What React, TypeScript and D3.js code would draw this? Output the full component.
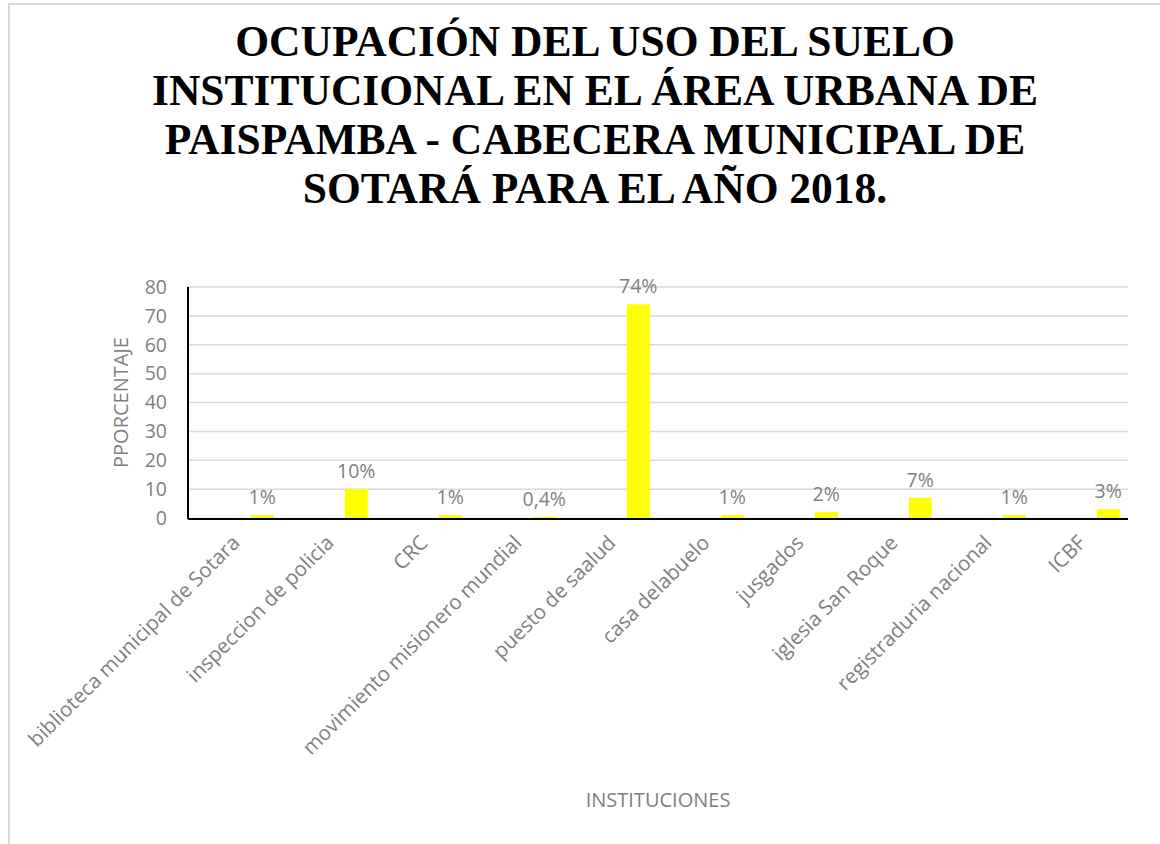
import React, { useEffect, useRef } from "react";
import * as d3 from "d3";

const categories = [
  "biblioteca municipal de Sotara",
  "inspeccion de policia",
  "CRC",
  "movimiento misionero mundial",
  "puesto de saalud",
  "casa delabuelo",
  "jusgados",
  "iglesia San Roque",
  "registraduria nacional",
  "ICBF",
];
const values = [1, 10, 1, 0.4, 74, 1, 2, 7, 1, 3];
const valueLabels = ["1%", "10%", "1%", "0,4%", "74%", "1%", "2%", "7%", "1%", "3%"];
const yTicks = [0, 10, 20, 30, 40, 50, 60, 70, 80];
const titleLines = [
  "OCUPACIÓN DEL USO DEL SUELO",
  "INSTITUCIONAL EN EL ÁREA URBANA DE",
  "PAISPAMBA - CABECERA MUNICIPAL DE",
  "SOTARÁ PARA EL AÑO 2018.",
];

const W = 1160;
const H = 844;
const grey = "#7f7f7f";
const font = "'Open Sans', sans-serif";

const App = () => {
  const svgRef = useRef(null);

  useEffect(() => {
    const svg = d3.select(svgRef.current);
    svg.selectAll("*").remove();

    const left = 188;
    const right = 1128;
    const top = 287;
    const bottom = 518;

    // chart frame
    svg
      .append("rect")
      .attr("x", 9)
      .attr("y", 4)
      .attr("width", W + 20)
      .attr("height", H + 20)
      .attr("fill", "#fff")
      .attr("stroke", "#d9d9d9")
      .attr("stroke-width", 2);

    // title
    svg
      .append("g")
      .selectAll("text")
      .data(titleLines)
      .enter()
      .append("text")
      .attr("x", 595)
      .attr("y", (d, i) => 56 + i * 49)
      .attr("text-anchor", "middle")
      .attr("font-family", "'Liberation Serif', 'Times New Roman', serif")
      .attr("font-weight", "bold")
      .attr("font-size", 43.5)
      .attr("fill", "#000")
      .text((d) => d);

    const x = d3.scaleBand().domain(categories).range([left, right]).padding(0);
    const y = d3.scaleLinear().domain([0, 80]).range([bottom, top]);

    // gridlines
    svg
      .append("g")
      .selectAll("line")
      .data(yTicks.slice(1))
      .enter()
      .append("line")
      .attr("x1", left)
      .attr("x2", right)
      .attr("y1", (d) => y(d))
      .attr("y2", (d) => y(d))
      .attr("stroke", "#d9d9d9")
      .attr("stroke-width", 1.5);

    // y tick labels
    const yAxis = svg
      .append("g")
      .attr("transform", `translate(${left},0)`)
      .call(d3.axisLeft(y).tickValues(yTicks).tickSize(0).tickPadding(21));
    yAxis.select(".domain").remove();
    yAxis
      .selectAll("text")
      .attr("font-family", font)
      .attr("font-size", 19.5)
      .attr("fill", grey);

    const barW = 23;
    const barX = (c: string) => (x(c) as number) + x.bandwidth() * 0.79 - barW / 2;

    svg
      .append("g")
      .selectAll("rect")
      .data(values)
      .enter()
      .append("rect")
      .attr("x", (d, i) => barX(categories[i]))
      .attr("y", (d) => y(d))
      .attr("width", barW)
      .attr("height", (d) => bottom - y(d))
      .attr("fill", "#ffff00");

    // data labels
    svg
      .append("g")
      .selectAll("text")
      .data(values)
      .enter()
      .append("text")
      .attr("x", (d, i) => barX(categories[i]) + barW / 2)
      .attr("y", (d) => y(d) - 11)
      .attr("text-anchor", "middle")
      .attr("font-family", font)
      .attr("font-size", 19.5)
      .attr("fill", grey)
      .text((d, i) => valueLabels[i]);

    // axes lines
    svg
      .append("line")
      .attr("x1", left)
      .attr("x2", left)
      .attr("y1", top)
      .attr("y2", bottom + 1)
      .attr("stroke", "#000")
      .attr("stroke-width", 2);
    svg
      .append("line")
      .attr("x1", left)
      .attr("x2", right)
      .attr("y1", bottom + 1)
      .attr("y2", bottom + 1)
      .attr("stroke", "#000")
      .attr("stroke-width", 2);

    // category labels
    svg
      .append("g")
      .selectAll("text")
      .data(categories)
      .enter()
      .append("text")
      .attr("transform", (d) => {
        const cx = (x(d) as number) + x.bandwidth() / 2 + 6;
        return `translate(${cx},${bottom + 26}) rotate(-45)`;
      })
      .attr("text-anchor", "end")
      .attr("font-family", font)
      .attr("font-size", 20.5)
      .attr("fill", grey)
      .text((d) => d);

    // axis titles
    svg
      .append("text")
      .attr("x", (left + right) / 2)
      .attr("y", 807)
      .attr("text-anchor", "middle")
      .attr("font-family", font)
      .attr("font-size", 20)
      .attr("fill", grey)
      .text("INSTITUCIONES");
    svg
      .append("text")
      .attr("transform", `translate(128,${(top + bottom) / 2}) rotate(-90)`)
      .attr("text-anchor", "middle")
      .attr("font-family", font)
      .attr("font-size", 20)
      .attr("fill", grey)
      .text("PPORCENTAJE");
  }, []);

  return (
    <svg
      ref={svgRef}
      width={W}
      height={H}
      style={{ position: "absolute", left: 0, top: 0, background: "#fff" }}
    />
  );
};

export default App;
